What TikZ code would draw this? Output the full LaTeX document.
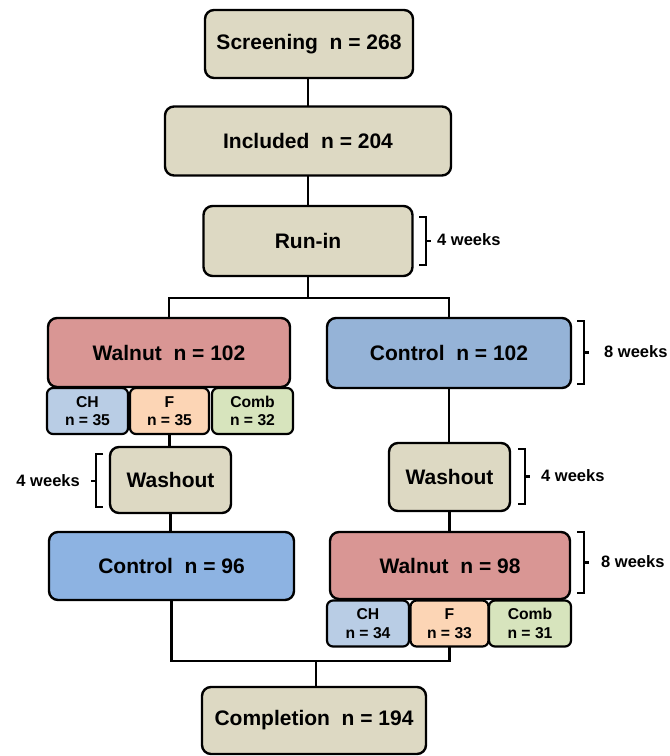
\documentclass[tikz,border=0pt]{standalone}
\usepackage{fontspec}
\setmainfont{Liberation Sans}
\newcommand{\gapsp}{\hspace{0.556em}}
\begin{document}
\begin{tikzpicture}[x=1pt,y=-1pt,
  box/.style={draw=black,line width=2.4pt,rounded corners=9pt,inner sep=0pt,
    font=\fontsize{21}{23}\selectfont\bfseries,align=center},
  sub/.style={draw=black,line width=2.2pt,rounded corners=6pt,inner sep=0pt,
    minimum height=46pt,font=\fontsize{15.7}{18.5}\selectfont\bfseries,align=center},
  conn/.style={line width=2.6pt,line cap=rect},
  brk/.style={line width=2.6pt},
  wk/.style={font=\fontsize{16.5}{19}\selectfont\bfseries,inner sep=0pt}]
\definecolor{tan}{RGB}{221,217,195}
\definecolor{wal}{RGB}{217,150,148}
\definecolor{ctlA}{RGB}{149,179,215}
\definecolor{ctlB}{RGB}{141,179,226}
\definecolor{chc}{RGB}{185,205,229}
\definecolor{fc}{RGB}{252,213,181}
\definecolor{cbc}{RGB}{215,228,189}
\useasboundingbox (0,0) rectangle (670,756);

% nodes
\node[box,fill=tan,minimum width=208pt,minimum height=68pt] (scr) at (309,44) {Screening\gapsp n = 268};
\node[box,fill=tan,minimum width=286pt,minimum height=69pt] (inc) at (308,141) {Included\gapsp n = 204};
\node[box,fill=tan,minimum width=209pt,minimum height=70pt] (run) at (308,241) {Run-in};

\node[box,fill=wal,minimum width=242pt,minimum height=69pt] (wal1) at (169,352.5) {Walnut\gapsp n = 102};
\node[box,fill=ctlA,minimum width=244pt,minimum height=70pt] (con1) at (449,353) {Control\gapsp n = 102};

\node[sub,fill=chc,minimum width=81pt] (ch1) at (87.5,411) {CH\\n = 35};
\node[sub,fill=fc,minimum width=79pt] (f1) at (169.5,411) {F\\n = 35};
\node[sub,fill=cbc,minimum width=81pt] (cb1) at (252.5,411) {Comb\\n = 32};

\node[box,fill=tan,minimum width=121pt,minimum height=66pt] (wL) at (170.5,480) {Washout};
\node[box,fill=tan,minimum width=121pt,minimum height=68pt] (wR) at (449.5,477) {Washout};

\node[box,fill=ctlB,minimum width=245pt,minimum height=68pt] (con2) at (171.5,566) {Control\gapsp n = 96};
\node[box,fill=wal,minimum width=240pt,minimum height=67pt] (wal2) at (450,565.5) {Walnut\gapsp n = 98};

\node[sub,fill=chc,minimum width=82pt] (ch2) at (368,623.5) {CH\\n = 34};
\node[sub,fill=fc,minimum width=78pt] (f2) at (449.5,623.5) {F\\n = 33};
\node[sub,fill=cbc,minimum width=82pt] (cb2) at (530,623.5) {Comb\\n = 31};

\node[box,fill=tan,minimum width=224pt,minimum height=67pt] (comp) at (314,720.5) {Completion\gapsp n = 194};

% connectors
\coordinate (split) at (308,298);
\coordinate (join) at (316,661);
\draw[conn] (scr.south -| inc.north) -- (inc.north);
\draw[conn] (inc.south) -- (run.north);
\draw[conn] (run.south) -- (split);
\draw[conn] (wal1.north) |- (split) -| (con1.north);
\draw[conn] (f1.south) -- (f1.south |- wL.north);
\draw[conn] (wL.south) -- (wL.south |- con2.north);
\draw[conn] (con1.south) -- (con1.south |- wR.north);
\draw[conn] (wR.south) -- (wR.south |- wal2.north);
\draw[conn] (con2.south) |- (join) -| (f2.south);
\draw[conn] (join) -- (join |- comp.north);

% brackets
\draw[brk] (419,217) -- (426,217) -- (426,265) -- (419,265);
\draw[brk] (426,241) -- (431,241);
\node[wk,anchor=west] (lb1) at (437,240) {4 weeks};

\draw[brk] (577,321) -- (584,321) -- (584,384) -- (577,384);
\draw[brk] (584,352.5) -- (589,352.5);
\node[wk,anchor=west] (lb2) at (604,352) {8 weeks};

\draw[brk] (103,454) -- (96,454) -- (96,507) -- (103,507);
\draw[brk] (96,481) -- (91,481);
\node[wk,anchor=east] (lb3) at (80,481) {4 weeks};

\draw[brk] (518,449) -- (525,449) -- (525,504) -- (518,504);
\draw[brk] (525,476.5) -- (530,476.5);
\node[wk,anchor=west] (lb4) at (541,476) {4 weeks};

\draw[brk] (577,532) -- (584,532) -- (584,593) -- (577,593);
\draw[brk] (584,562.5) -- (589,562.5);
\node[wk,anchor=west] (lb5) at (601,562) {8 weeks};
\end{tikzpicture}
\end{document}
